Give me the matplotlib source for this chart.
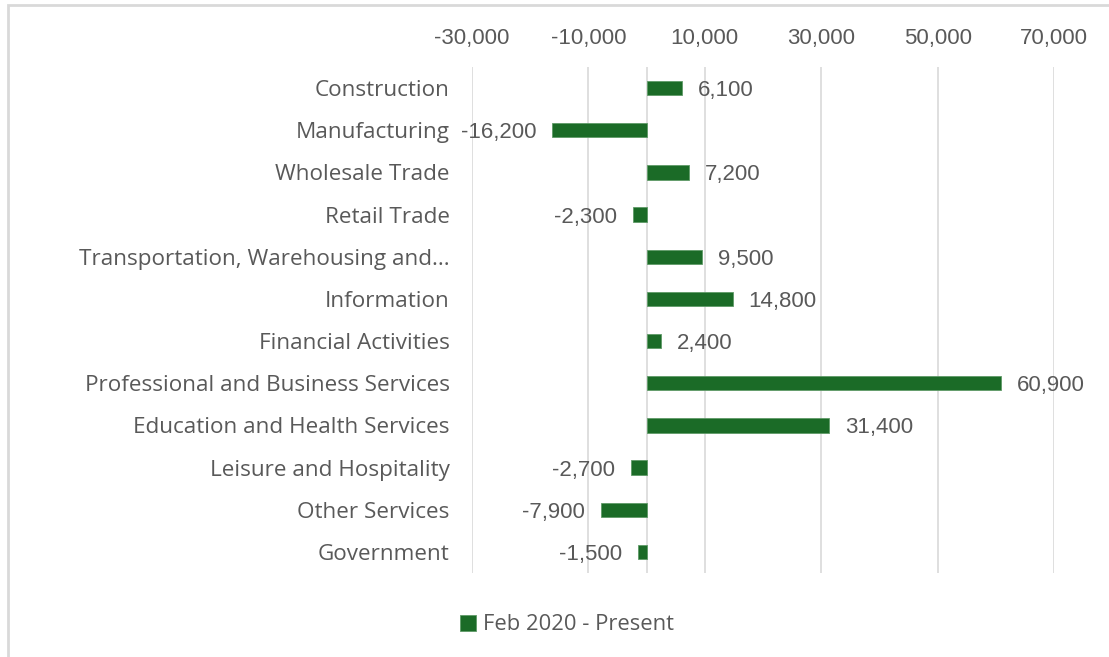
import numpy as np
import matplotlib
matplotlib.use("Agg")
import matplotlib.pyplot as plt
from matplotlib.patches import Rectangle
from matplotlib.ticker import FuncFormatter

categories = ["Construction", "Manufacturing", "Wholesale Trade", "Retail Trade",
              "Transportation, Warehousing and...", "Information", "Financial Activities",
              "Professional and Business Services", "Education and Health Services",
              "Leisure and Hospitality", "Other Services", "Government"]
values = [6100, -16200, 7200, -2300, 9500, 14800, 2400, 60900, 31400, -2700, -7900, -1500]
ticks = [-30000, -10000, 10000, 30000, 50000, 70000]
series_name = "Feb 2020 - Present"

green = "#1b6b27"
txt = "#595959"
grid = "#d9d9d9"

W, H = 1109, 657
fig = plt.figure(figsize=(W / 100, H / 100), dpi=100)

# outer chart frame (cut off at right and bottom)
fig.patches.append(Rectangle((8 / W, -0.05), 1.1, (H - 5) / H + 0.05,
                             transform=fig.transFigure, fill=False,
                             edgecolor=grid, linewidth=2))

ax = fig.add_axes([472 / W, 1 - 573 / H, (1054 - 472) / W, (573 - 67) / H])
y = np.arange(len(categories))
ax.barh(y, values, height=0.34, color=green, edgecolor="#5f9a67", linewidth=0.6,
        label=series_name, zorder=3)

ax.set_xlim(-30000, 70000)
ax.set_ylim(len(categories) - 0.5, -0.5)
ax.set_xticks(ticks)
ax.xaxis.tick_top()
ax.xaxis.set_major_formatter(FuncFormatter(lambda v, p: f"{int(v):,}"))
ax.tick_params(axis="x", length=0, pad=13, labelsize=16, labelcolor=txt)
for lab in ax.get_xticklabels():
    lab.set_family("Liberation Sans")
ax.grid(axis="x", color=grid, linewidth=1.2, zorder=0)
ax.axvline(0, color=grid, linewidth=1.2, zorder=1)

ax.set_yticks(y)
ax.set_yticklabels(categories, family="Open Sans", fontsize=16.2, color=txt)
ax.tick_params(axis="y", length=0, pad=16)
for s in ax.spines.values():
    s.set_visible(False)

for yi, v in zip(y, values):
    if v >= 0:
        ax.annotate(f"{v:,}", (v, yi), xytext=(16, 0), textcoords="offset pixels",
                    ha="left", va="center_baseline", fontsize=16, color=txt,
                    family="Liberation Sans")
    else:
        ax.annotate(f"{v:,}", (v, yi), xytext=(-16, 0), textcoords="offset pixels",
                    ha="right", va="center_baseline", fontsize=16, color=txt,
                    family="Liberation Sans")

leg = fig.legend(loc="center", bbox_to_anchor=(567 / W, 1 - 625 / H), frameon=False,
                 handlelength=0.75, handleheight=0.75, handletextpad=0.3,
                 prop={"family": "Open Sans", "size": 15.8})
for t in leg.get_texts():
    t.set_color(txt)

fig.savefig("out.png", dpi=100)
